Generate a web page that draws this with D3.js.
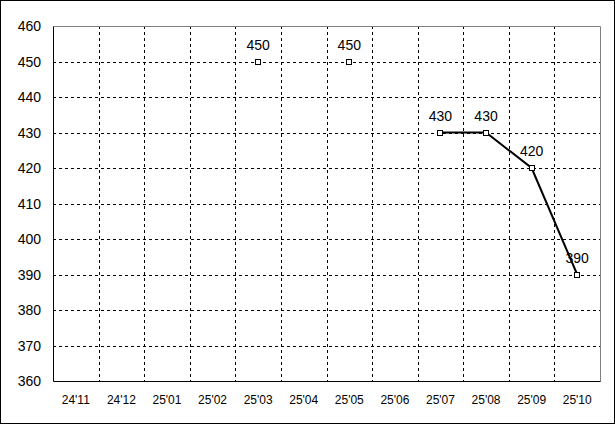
<!DOCTYPE html>
<html><head><meta charset="utf-8">
<script src="https://cdn.jsdelivr.net/npm/d3@7"></script>
<style>html,body{margin:0;padding:0;background:#fff}</style>
</head><body>
<script>
const categories = ["24'11","24'12","25'01","25'02","25'03","25'04","25'05","25'06","25'07","25'08","25'09","25'10"];
const values = [null,null,null,null,450,null,450,null,430,430,420,390];
const yTicks = [360,370,380,390,400,410,420,430,440,450,460];

const W=615,H=424;
const m={left:53,right:15,top:26,bottom:43};
const svg=d3.select("body").append("svg").attr("width",W).attr("height",H)
  .style("font-family","'Liberation Sans', Arial, sans-serif");
svg.append("rect").attr("x",0.5).attr("y",0.5).attr("width",W-1).attr("height",H-1)
  .attr("fill","#fff").attr("stroke","#000");

const x=d3.scaleBand().domain(categories).range([m.left,W-m.right]).padding(0);
const y=d3.scaleLinear().domain([360,460]).range([H-m.bottom,m.top]);
const g=svg.append("g");

// horizontal grid
g.selectAll(".hg").data(yTicks.filter(t=>t>360&&t<460)).join("line")
  .attr("x1",m.left).attr("x2",W-m.right)
  .attr("y1",d=>Math.round(y(d))+0.5).attr("y2",d=>Math.round(y(d))+0.5)
  .attr("stroke","#000").attr("stroke-dasharray","3,3");
// vertical grid
g.selectAll(".vg").data(categories.slice(1)).join("line")
  .attr("x1",d=>Math.round(x(d))+0.5).attr("x2",d=>Math.round(x(d))+0.5)
  .attr("y1",m.top).attr("y2",H-m.bottom)
  .attr("stroke","#000").attr("stroke-dasharray","3,3");
// top/right border gray
const x0=m.left+0.5, x1=Math.round(W-m.right)+0.5, yT=m.top+0.5, yB=Math.round(H-m.bottom)+0.5;
g.append("path").attr("d",`M${x0},${yT}H${x1}V${yB}`).attr("fill","none").attr("stroke","#808080");
g.append("path").attr("d",`M${x0},${yT}V${yB}H${x1}`).attr("fill","none").attr("stroke","#000");

// y labels
svg.selectAll(".yl").data(yTicks).join("text")
  .attr("x",41).attr("y",d=>y(d)).attr("dy","0.36em").attr("text-anchor","end")
  .attr("font-size",14).text(d=>d);
// x labels
svg.selectAll(".xl").data(categories).join("text")
  .attr("x",d=>x(d)+x.bandwidth()/2).attr("y",404).attr("text-anchor","middle")
  .attr("font-size",12).text(d=>d);

const pts=categories.map((c,i)=>({c,v:values[i]}));
const line=d3.line().defined(d=>d.v!=null).x(d=>x(d.c)+x.bandwidth()/2).y(d=>y(d.v));
svg.append("path").datum(pts).attr("d",line).attr("fill","none").attr("stroke","#000").attr("stroke-width",2);
const dp=pts.filter(d=>d.v!=null);
svg.selectAll(".mk").data(dp).join("rect")
  .attr("x",d=>Math.round(x(d.c)+x.bandwidth()/2)-2.5).attr("y",d=>Math.round(y(d.v))-2.5)
  .attr("width",5).attr("height",5).attr("fill","#fff").attr("stroke","#000").attr("stroke-width",1);
svg.selectAll(".dl").data(dp).join("text")
  .attr("x",d=>x(d.c)+x.bandwidth()/2).attr("y",d=>y(d.v)-12).attr("text-anchor","middle")
  .attr("font-size",14).text(d=>d.v);
</script>
</body></html>
